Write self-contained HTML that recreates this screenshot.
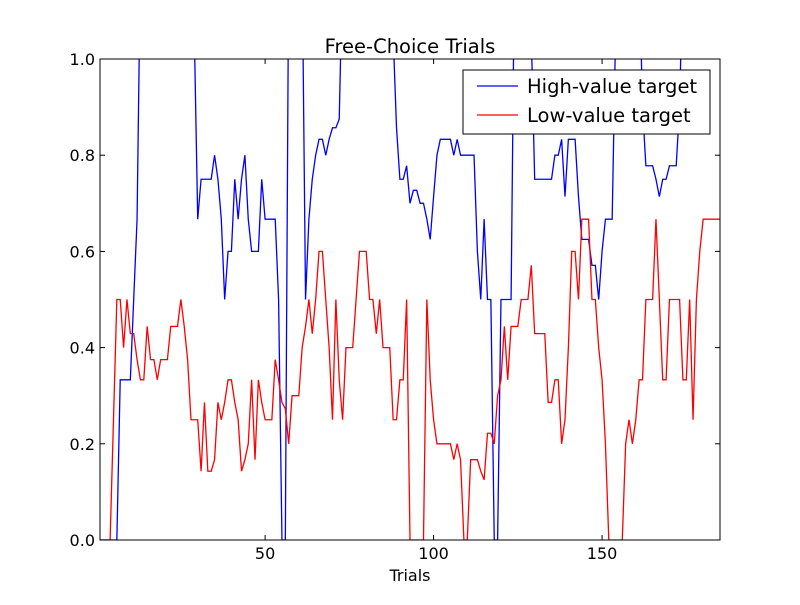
<!DOCTYPE html>
<html><head><meta charset="utf-8"><style>
html,body{margin:0;padding:0;background:#fff;}
svg text{font-family:"DejaVu Sans","Liberation Sans",sans-serif;}
</style></head><body>
<svg id="chart" width="800" height="600" viewBox="0 0 800 600" xmlns="http://www.w3.org/2000/svg">
<defs><clipPath id="plotclip"><rect x="100" y="59" width="620" height="481"/></clipPath></defs>
<rect width="800" height="600" fill="#fff"/>
<g id="series" clip-path="url(#plotclip)"></g>
<rect x="100" y="59" width="620" height="481" fill="none" stroke="#000" stroke-width="1"/>
<g id="ticks"></g>
<text x="410" y="53" font-size="19.5" text-anchor="middle">Free-Choice Trials</text>
<text x="410" y="581" font-size="16" text-anchor="middle">Trials</text>
<g>
<rect x="463" y="70" width="247" height="64" fill="#fff" stroke="#000" stroke-width="1"/>
<g>
<line x1="477" y1="86" x2="518" y2="86" stroke="#0000ff" stroke-width="1.2"/>
<text x="527" y="93" font-size="19.5">High-value target</text></g>
<g>
<line x1="477" y1="115" x2="518" y2="115" stroke="#ff0000" stroke-width="1.2"/>
<text x="527" y="122" font-size="19.5">Low-value target</text></g>
</g>
</svg>
<script>
const xTicks = [50, 100, 150];
const yTicks = [0, 0.2, 0.4, 0.6, 0.8, 1.0];
const yTickLabels = ["0.0", "0.2", "0.4", "0.6", "0.8", "1.0"];
const highValue = [0,0,0,0,0,0,
.333,.333,.333,.333,.5,.667,
1.2,1.2,1.2,1.2,1.2,1.2,1.2,1.2,1.2,1.2,1.2,1.2,1.2,1.2,1.2,1.2,
1.05,.667,.75,.75,.75,.75,.8,.75,.667,.5,.6,.6,.75,.667,.75,.8,.667,.6,.6,.6,.75,.667,.667,.667,.667,.5,0,0,
1.2,1.2,1.2,1.2,1.2,
.5,.667,.75,.8,.833,.833,.8,.833,.857,.857,.875,
1.2,1.2,1.2,1.2,1.2,1.2,1.2,1.2,1.2,1.2,1.2,1.2,1.2,1.2,1.2,
1.05,.857,.75,.75,.778,.7,.727,.727,.7,.7,.667,.625,.714,.8,.833,.833,.833,.833,.8,.833,.8,.8,.8,.8,.8,.6,.5,.667,.5,.5,0,0,.5,.5,.5,.5,
1.2,1.2,1.2,1.2,1.2,
1.05,.75,.75,.75,.75,.75,.75,.8,.8,.833,.714,.833,.833,.833,.714,.625,.625,.625,.571,.571,.5,.6,.667,.667,.667,1.05,
1.2,1.2,1.2,1.2,1.2,1.2,1.2,
.9,.778,.778,.778,.75,.714,.75,.75,.778,.778,.778,.9,
1.2,1.2,1.2,1.2,1.2,1.2,1.2,1.2,1.2,1.2,1.2,1.2];
const lowValue = [0,0,0,0,.25,.5,.5,.4,.5,.429,.429,.375,.333,.333,.444,.375,.375,.333,.375,.375,.375,.444,.444,.444,.5,.444,.375,.25,.25,.25,
.143,.286,.143,.143,.167,.286,.25,.286,.333,.333,.286,.25,.143,.167,.2,.333,.167,.333,
.286,.25,.25,.25,.375,.333,.286,.273,.2,.3,.3,.3,.4,.444,.5,.429,.5,.6,.6,.5,.4,.25,.5,.333,.25,.4,.4,.4,.5,.6,.6,.6,.5,.5,.429,.5,.4,.4,.4,.25,.25,.333,.333,.5,
0,0,0,0,0,.5,.333,.25,.2,.2,.2,.2,.2,.167,.2,.167,0,0,.167,.167,.167,.143,.125,.222,.222,.2,.3,.333,.444,.333,.444,.444,.444,.5,.5,.5,.571,.429,.429,.429,.429,.286,.286,.333,.333,.2,.25,.4,.6,.6,.5,.667,.667,.667,.5,.5,.4,.333,.2,
0,0,0,0,0,.2,.25,.2,.25,.333,.333,.5,.5,.5,.667,.5,.333,.333,.5,.5,.5,.5,.333,.333,.5,.25,.5,.6,.667,.667,.667,.667,.667,.667];

const X0 = 100, X1 = 720, Y0 = 540, Y1 = 59, XMIN = 1, XMAX = 185;
function xScale(v){ return X0 + (v - XMIN) / (XMAX - XMIN) * (X1 - X0); }
function yScale(v){ return Y0 - v * (Y0 - Y1); }
const NS = "http://www.w3.org/2000/svg";
const series = document.getElementById("series");
function drawLine(vals, color, name){
  const p = document.createElementNS(NS, "polyline");
  p.setAttribute("points", vals.map((v,i)=>xScale(i+1).toFixed(2)+","+yScale(v).toFixed(2)).join(" "));
  p.setAttribute("fill","none"); p.setAttribute("stroke",color); p.setAttribute("stroke-width","1.3");
  
  
  series.appendChild(p);
}
drawLine(highValue, "#0000ff", "high-value-line");
drawLine(lowValue, "#ff0000", "low-value-line");

const ticks = document.getElementById("ticks");
function mk(tag, attrs){ const e = document.createElementNS(NS, tag); for (const k in attrs) e.setAttribute(k, attrs[k]); ticks.appendChild(e); return e; }
xTicks.forEach(t => {
  const x = xScale(t);
  mk("line",{x1:x,y1:Y0,x2:x,y2:Y0-5,stroke:"#000"});
  mk("line",{x1:x,y1:Y1,x2:x,y2:Y1+5,stroke:"#000"});
  const tx = mk("text",{x:x,y:Y0+19,"font-size":"16","text-anchor":"middle"});
  tx.textContent = String(t);
  
  
});
yTicks.forEach((t,i) => {
  const y = yScale(t);
  mk("line",{x1:X0,y1:y,x2:X0+5,y2:y,stroke:"#000"});
  mk("line",{x1:X1,y1:y,x2:X1-5,y2:y,stroke:"#000"});
  const tx = mk("text",{x:X0-5,y:y+6,"font-size":"16","text-anchor":"end"});
  tx.textContent = yTickLabels[i];
  
  
});
</script>
</body></html>
